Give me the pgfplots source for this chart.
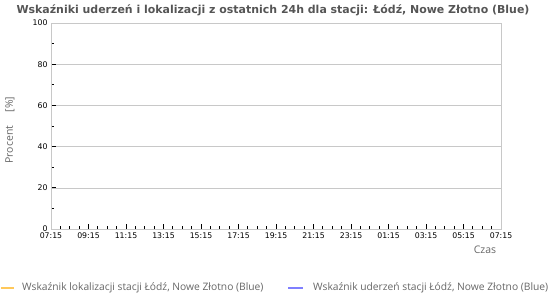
\documentclass[border=0pt]{standalone}
\usepackage{pgfplots}
\pgfplotsset{compat=1.18}
\usepackage{fontspec}
\setmainfont{DejaVu Sans}
\newfontfamily\legfont{Open Sans}
\definecolor{gridc}{HTML}{C8C8C8}
\definecolor{titc}{HTML}{555555}
\definecolor{legc}{HTML}{666666}
\definecolor{orangel}{HTML}{FFC85A}
\definecolor{bluel}{HTML}{7F7FFF}
\begin{document}
\begin{tikzpicture}[x=1bp,y=1bp]
\path[use as bounding box] (0,0) rectangle (550,300);
\begin{axis}[at={(51bp,71bp)}, anchor=south west, scale only axis,
  width=450bp, height=206bp,
  xmin=0, xmax=24, ymin=0, ymax=100,
  xtick={0,2,...,24},
  xticklabels={07:15,09:15,11:15,13:15,15:15,17:15,19:15,21:15,23:15,01:15,03:15,05:15,07:15},
  minor x tick num=3,
  ytick={0,20,...,100}, minor y tick num=1,
  ymajorgrids, grid style={gridc, line width=0.6bp},
  axis line style={gridc, line width=0.8bp},
  tick style={black, line width=0.8bp},
  tick align=inside, major tick length=5bp, minor tick length=3bp,
  xtick pos=bottom, ytick pos=left,
  tick label style={font=\fontsize{7.8}{9}\selectfont, text=black},
  /pgf/number format/assume math mode=true,
]
\addplot[draw=none, forget plot] coordinates {(0,0)};
\end{axis}
\node[text=titc, font=\bfseries\fontsize{11}{13}\selectfont] at (273,290) {Wskaźniki uderzeń i lokalizacji z ostatnich 24h dla stacji: Łódź, Nowe Złotno (Blue)};
\node[text=legc, rotate=90, font=\legfont\fontsize{10.5}{12}\selectfont] at (10,170) {Procent\hspace{1.3em}[\%]};
\node[text=legc, font=\legfont\fontsize{10.5}{12}\selectfont] at (485,50) {Czas};
\draw[orangel, line width=1.6bp] (1,12) -- (14,12);
\node[anchor=west, text=legc, font=\legfont\fontsize{10.3}{12}\selectfont, inner sep=0] at (22,12) {Wskaźnik lokalizacji stacji Łódź, Nowe Złotno (Blue)};
\draw[bluel, line width=1.6bp] (288,12) -- (303,12);
\node[anchor=west, text=legc, font=\legfont\fontsize{10.3}{12}\selectfont, inner sep=0] at (313,12) {Wskaźnik uderzeń stacji Łódź, Nowe Złotno (Blue)};
\end{tikzpicture}
\end{document}
